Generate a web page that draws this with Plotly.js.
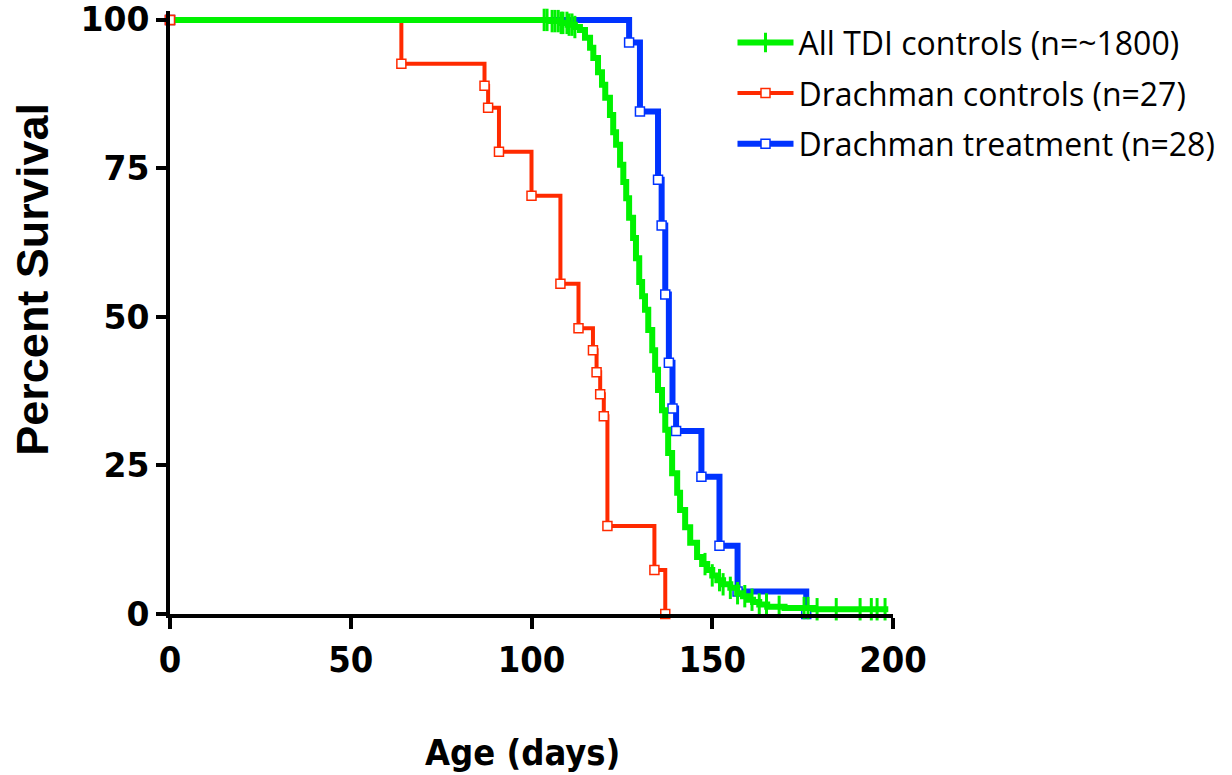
<!DOCTYPE html>
<html>
<head>
<meta charset="utf-8">
<script src="https://cdn.plot.ly/plotly-3.0.1.min.js"></script>
<style>
  html, body { margin: 0; padding: 0; background: #ffffff; }
  #chart { width: 1232px; height: 775px; }
</style>
</head>
<body>
<div id="chart"></div>
<script>
// ---------------- data ----------------
const xTicks = [0, 50, 100, 150, 200];
const yTicks = [0, 25, 50, 75, 100];

// Drachman controls (n=27)
const redDays = [0, 64, 87, 88, 91, 100, 108, 113, 117, 118, 119, 120, 121, 134, 137];
const redSurv = [100, 92.6, 88.9, 85.2, 77.8, 70.4, 55.6, 48.1, 44.4, 40.7, 37.0, 33.3, 14.8, 7.4, 0];

// Drachman treatment (n=28)
const blueDays = [0, 127, 130, 135, 136, 137, 138, 139, 140, 147, 152, 157, 176];
const blueSurv = [100, 96.2, 84.6, 73.1, 65.4, 53.8, 42.3, 34.6, 30.8, 23.1, 11.5, 3.8, 0];

// All TDI controls (n=~1800) - step curve read point by point
const greenDays = [0, 105, 108, 110, 112, 113.4, 114.8, 116.2, 117.1, 118.4, 119.5, 120.4, 121.7, 122.6, 123.4,
  124.5, 125.4, 126.2, 127.0, 128.1, 128.9, 129.8, 130.6, 131.4, 132.3, 133.4, 134.2, 135.0, 136.1, 137.0,
  137.8, 138.9, 140.3, 141.1, 142.5, 143.9, 145.8, 147.2, 148.6, 150, 151.4, 153, 155, 156.9, 158.5, 160,
  161.3, 163, 165.2, 170, 178, 198.7];
const greenSurv = [100, 99.8, 99.5, 99.2, 98.8, 98.3, 97.0, 95.3, 93.6, 91.2, 89.1, 86.9, 84.0, 81.1, 79.0,
  75.6, 72.7, 70.0, 66.7, 63.3, 59.9, 55.9, 53.5, 51.2, 47.8, 44.4, 41.1, 37.7, 34.3, 31.0,
  27.1, 23.7, 20.4, 17.5, 14.6, 12.0, 9.6, 8.4, 7.4, 6.5, 5.7, 5.0, 4.4, 3.5, 3.0, 2.4,
  2.0, 1.6, 1.2, 1.0, 0.8, 0.8];
// censored observations (tick marks) on the TDI curve
const greenCensorDays = [103.5, 104.3, 105.7, 106.5, 107.4, 108.2, 108.7, 109.8, 110.4, 111.2, 112.0,
  148, 150, 152, 153, 155, 157, 159, 161, 163, 165,
  168.5, 175.4, 176.5, 179.0, 184.3, 190.9, 194.0, 195.6, 197.8];

// ---------------- styling ----------------
const GREEN = '#00f200';
const RED = '#ff2a00';
const BLUE = '#0033ff';

// survival level of the TDI step curve at a censor day (step lookup on the read curve)
function greenLevelAt(d) {
  let v = greenSurv[0];
  for (let i = 0; i < greenDays.length; i++) {
    if (greenDays[i] <= d) v = greenSurv[i]; else break;
  }
  return v;
}
const censorLevels = greenCensorDays.map(greenLevelAt);

const traces = [
  {
    x: blueDays, y: blueSurv, type: 'scatter', mode: 'lines+markers',
    name: 'Drachman treatment (n=28)', legendgroup: 'b', legendrank: 3,
    line: { shape: 'hv', color: BLUE, width: 6 },
    marker: { symbol: 'square', size: 9, color: '#ffffff', line: { color: BLUE, width: 1.5 } },
    cliponaxis: false
  },
  {
    x: redDays, y: redSurv, type: 'scatter', mode: 'lines+markers',
    name: 'Drachman controls (n=27)', legendgroup: 'r', legendrank: 2,
    line: { shape: 'hv', color: RED, width: 4 },
    marker: { symbol: 'square', size: 9, color: '#ffffff', line: { color: RED, width: 1.5 } },
    cliponaxis: false
  },
  {
    x: greenDays, y: greenSurv, type: 'scatter', mode: 'lines',
    name: 'All TDI controls (n=~1800)', legendgroup: 'g', showlegend: false,
    line: { shape: 'hv', color: GREEN, width: 6 },
    cliponaxis: false
  },
  {
    x: greenCensorDays, y: censorLevels, type: 'scatter', mode: 'markers',
    name: 'censored', legendgroup: 'g', showlegend: false,
    marker: { symbol: 'line-ns', size: 16, color: GREEN, line: { color: GREEN, width: 3 } },
    cliponaxis: false
  },
  {
    x: [null], y: [null], type: 'scatter', mode: 'lines+markers',
    name: 'All TDI controls (n=~1800)', legendgroup: 'g', legendrank: 1,
    line: { color: GREEN, width: 6 },
    marker: { symbol: 'line-ns', size: 14, color: GREEN, line: { color: GREEN, width: 3 } }
  },
  {
    x: [redDays[0]], y: [redSurv[0]], type: 'scatter', mode: 'markers',
    name: 'Drachman controls start', legendgroup: 'r', showlegend: false,
    marker: { symbol: 'square', size: 9, color: '#ffffff', line: { color: RED, width: 1.5 } },
    cliponaxis: false
  }
];

const layout = {
  width: 1232, height: 775,
  margin: { l: 170, r: 339, t: 11, b: 161, autoexpand: false },
  paper_bgcolor: '#ffffff', plot_bgcolor: '#ffffff',
  showlegend: true,
  xaxis: {
    range: [0, 200], tickvals: xTicks, ticktext: xTicks.map(String),
    showgrid: false, zeroline: false, automargin: false,
    showline: true, linecolor: '#000000', linewidth: 4,
    ticks: 'outside', ticklen: 11, tickwidth: 4, tickcolor: '#000000',
    ticklabelstandoff: 0,
    tickfont: { family: 'DejaVu Sans Condensed, sans-serif', size: 36, weight: 'bold', color: '#000000' }
  },
  yaxis: {
    range: [0, 101.5], tickvals: yTicks, ticktext: yTicks.map(String),
    showgrid: false, zeroline: false, automargin: false,
    showline: true, linecolor: '#000000', linewidth: 4,
    ticks: 'outside', ticklen: 10, tickwidth: 4, tickcolor: '#000000',
    tickfont: { family: 'DejaVu Sans, sans-serif', size: 33, weight: 'bold', color: '#000000' }
  },
  legend: {
    x: 0.778, y: 0.993, xanchor: 'left', yanchor: 'top',
    traceorder: 'grouped', tracegroupgap: 6,
    itemwidth: 56,
    bgcolor: 'rgba(0,0,0,0)', borderwidth: 0,
    font: { family: 'Open Sans, sans-serif', size: 32, color: '#000000' }
  },
  annotations: [
    {
      text: 'Percent Survival', xref: 'paper', yref: 'paper',
      x: -0.1895, y: 0.556, xanchor: 'center', yanchor: 'middle',
      textangle: -90, showarrow: false,
      font: { family: 'Liberation Sans, Arial, sans-serif', size: 45, weight: 'bold', color: '#000000' }
    },
    {
      text: 'Age (days)', xref: 'paper', yref: 'paper',
      x: 0.487, y: -0.229, xanchor: 'center', yanchor: 'middle',
      showarrow: false,
      font: { family: 'DejaVu Sans Condensed, sans-serif', size: 36, weight: 'bold', color: '#000000' }
    }
  ]
};

Plotly.newPlot('chart', traces, layout, { displayModeBar: false, staticPlot: true });
</script>
</body>
</html>
